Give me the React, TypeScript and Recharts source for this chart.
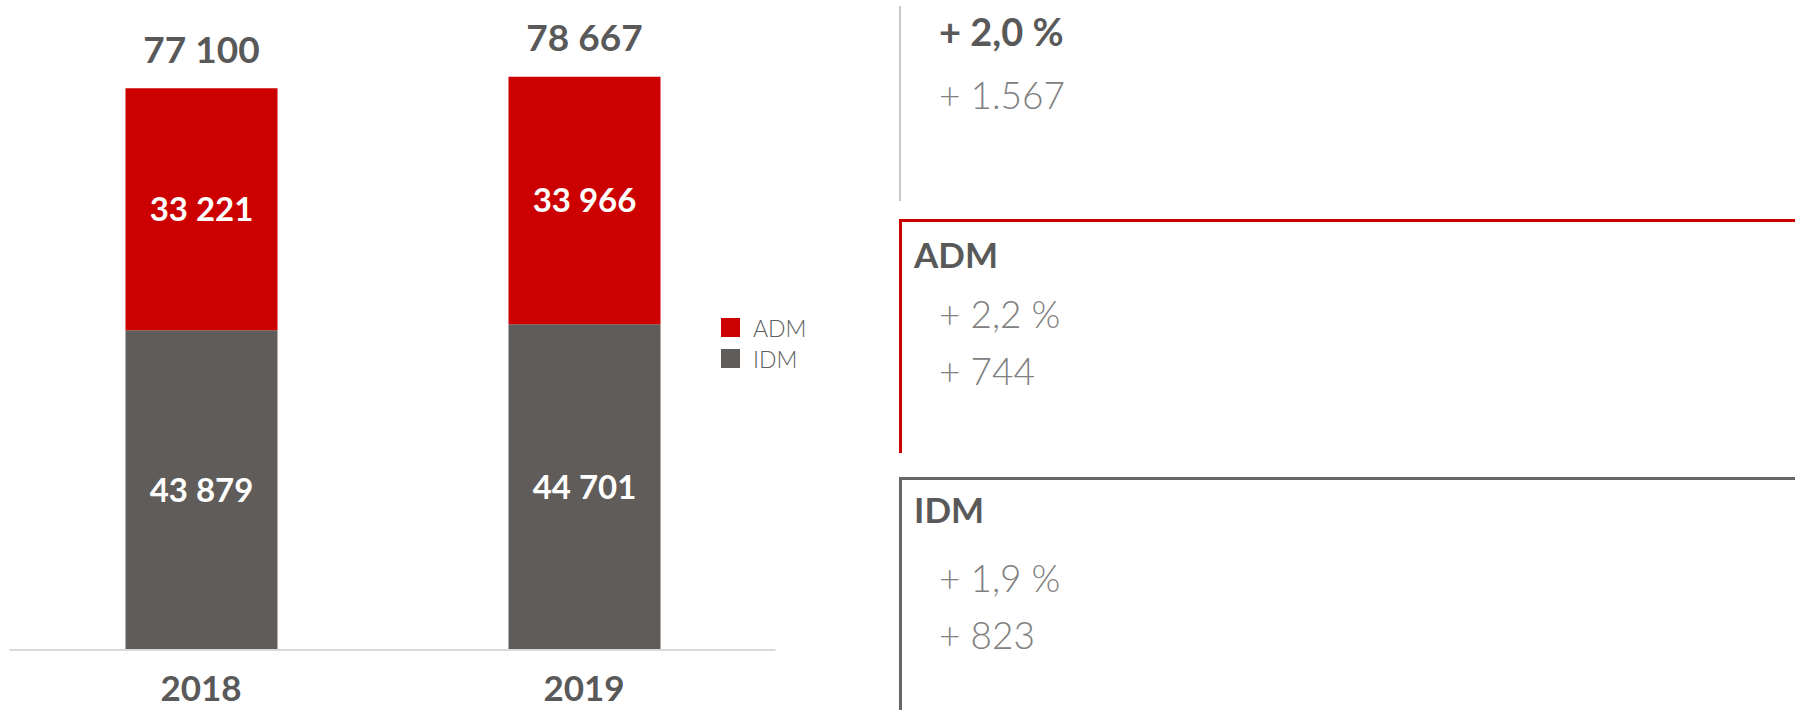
import { BarChart, Bar, XAxis, YAxis, LabelList } from "recharts"

const years = ["2018", "2019"]
const idmValues = [43879, 44701]
const admValues = [33221, 33966]
const totalValues = [77100, 78667]

const panelTitles = ["", "ADM", "IDM"]
const pctChanges = ["+ 2,0 %", "+ 2,2 %", "+ 1,9 %"]
const absChanges = ["+ 1.567", "+ 744", "+ 823"]

const RED = "#cc0000"
const GREY = "#605c5a"
const TEXT = "#595959"
const LIGHT = "#808080"
const FONT = "Lato, 'Noto Sans', sans-serif"

const data = years.map((year, i) => ({
  year,
  IDM: idmValues[i],
  ADM: admValues[i],
  total: totalValues[i],
}))

const fmt = (v: number | string) => String(v).replace(/\B(?=(\d{3})+(?!\d))/g, " ")

function TotalLabel(props: any) {
  const { x, y, width, value } = props
  return (
    <text
      x={x + width / 2}
      y={y - 40}
      textAnchor="middle"
      dominantBaseline="central"
      fill={TEXT}
      fontSize={37}
      fontWeight={700}
      fontFamily={FONT}
    >
      {fmt(value)}
    </text>
  )
}

// years sit right at the bottom edge, like the reference
function YearTick(props: any) {
  const { x, y, payload } = props
  return (
    <text
      x={x}
      y={y + 37}
      textAnchor="middle"
      dominantBaseline="central"
      fill={TEXT}
      fontSize={35}
      fontWeight={700}
      fontFamily={FONT}
    >
      {payload.value}
    </text>
  )
}

const legendItems = [
  { name: "ADM", color: RED },
  { name: "IDM", color: GREY },
]

function LegendBox() {
  return (
    <div style={{ position: "absolute", left: 721, top: 312, fontFamily: FONT }}>
      {legendItems.map((it) => (
        <div key={it.name} style={{ display: "flex", alignItems: "center", height: 31 }}>
          <div style={{ width: 19, height: 19, background: it.color, marginRight: 13 }} />
          <span style={{ fontSize: 23, color: "#606060", fontWeight: 300 }}>{it.name}</span>
        </div>
      ))}
    </div>
  )
}

const panels = [
  { top: 6, height: 195, color: "#c8c8c8", width: 2, topLine: false, titleY: 0, pctY: 31, absY: 94 },
  { top: 219, height: 234, color: RED, width: 3, topLine: true, titleY: 254, pctY: 313, absY: 370 },
  { top: 477, height: 240, color: "#666666", width: 3, topLine: true, titleY: 509, pctY: 577, absY: 634 },
]

const txt: React.CSSProperties = {
  position: "absolute",
  fontFamily: FONT,
  fontSize: 37,
  lineHeight: 1,
  transform: "translateY(-50%)",
  whiteSpace: "nowrap",
}

function Panels() {
  return (
    <>
      {panels.map((p, i) => (
        <div key={i}>
          <div
            style={{
              position: "absolute",
              left: 899,
              top: p.top,
              width: p.topLine ? 1795 - 899 : 0,
              height: p.height,
              borderLeft: `${p.width}px solid ${p.color}`,
              borderTop: p.topLine ? `${p.width}px solid ${p.color}` : "none",
              boxSizing: "border-box",
            }}
          />
          {panelTitles[i] && (
            <div style={{ ...txt, fontSize: 35, left: 914, top: p.titleY, fontWeight: 700, color: TEXT }}>
              {panelTitles[i]}
            </div>
          )}
          <div
            style={{
              ...txt,
              left: 939,
              top: p.pctY,
              fontSize: i === 0 ? 38 : 37,
              fontWeight: i === 0 ? 700 : 300,
              color: i === 0 ? TEXT : LIGHT,
            }}
          >
            {pctChanges[i]}
          </div>
          <div style={{ ...txt, left: 939, top: p.absY, fontWeight: 300, color: LIGHT }}>
            {absChanges[i]}
          </div>
        </div>
      ))}
    </>
  )
}

export default function App() {
  return (
    <div style={{ position: "absolute", left: 0, top: 0, width: 1795, height: 710, background: "#fff", overflow: "hidden" }}>
      <BarChart
        width={790}
        height={710}
        data={data}
        margin={{ top: 67, right: 14.5, bottom: 0, left: 9.5 }}
        barCategoryGap={0}
      >
        <XAxis
          dataKey="year"
          height={60}
          axisLine={{ stroke: "#d9d9d9", strokeWidth: 2 }}
          tickLine={false}
          tickSize={0}
          tickMargin={0}
          tick={<YearTick />}
          interval={0}
        />
        <YAxis hide domain={[0, 80000]} />
        <Bar dataKey="IDM" stackId="a" fill={GREY} barSize={152} isAnimationActive={false}>
          <LabelList
            dataKey="IDM"
            position="center"
            formatter={fmt}
            fill="#ffffff"
            fontSize={33}
            fontWeight={700}
            fontFamily={FONT}
          />
        </Bar>
        <Bar dataKey="ADM" stackId="a" fill={RED} barSize={152} isAnimationActive={false}>
          <LabelList
            dataKey="ADM"
            position="center"
            formatter={fmt}
            fill="#ffffff"
            fontSize={33}
            fontWeight={700}
            fontFamily={FONT}
          />
          <LabelList dataKey="total" content={<TotalLabel />} />
        </Bar>
      </BarChart>
      <LegendBox />
      <Panels />
    </div>
  )
}
